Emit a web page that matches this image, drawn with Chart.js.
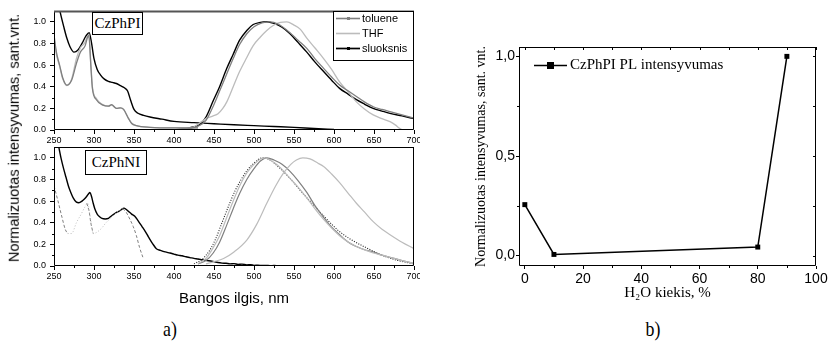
<!DOCTYPE html>
<html>
<head>
<meta charset="utf-8">
<script src="https://cdn.jsdelivr.net/npm/chart.js@4"></script>
<style>
  html,body{margin:0;padding:0;background:#fff;}
  body{width:829px;height:360px;position:relative;overflow:hidden;}
  canvas{position:absolute;}
  .txt{position:absolute;white-space:nowrap;color:#000;line-height:1;}
  .sans{font-family:"Liberation Sans",Arial,sans-serif;}
  .serif{font-family:"Liberation Serif","Times New Roman",serif;}
  .boxlbl{position:absolute;border:1px solid #000;background:#fff;display:flex;align-items:center;justify-content:center;font-size:15px;box-sizing:border-box;}
</style>
</head>
<body>
<canvas id="cTop" width="420" height="145" style="left:0;top:0"></canvas>
<canvas id="cBot" width="420" height="175" style="left:0;top:135px"></canvas>
<canvas id="cB" width="409" height="310" style="left:420px;top:0"></canvas>

<div class="txt sans" style="left:14px;top:138px;font-size:14.5px;transform:translate(-50%,-50%) rotate(-90deg);">Normalizuotas intensyvumas, sant.vnt.</div>
<div class="boxlbl serif" style="left:92px;top:12px;width:51px;height:23px;">CzPhPI</div>
<div class="boxlbl serif" style="left:85px;top:150px;width:62px;height:25px;">CzPhNI</div>
<div class="txt serif" style="left:170px;top:329px;font-size:21px;transform:translate(-50%,-50%) scaleX(0.85);">a)</div>
<div class="txt serif" style="left:653px;top:329px;font-size:21px;transform:translate(-50%,-50%) scaleX(0.85);">b)</div>

<script>
// ================= DATA =================
// Panel a) axes
const aXTicks = [250,300,350,400,450,500,550,600,650,700];
const aXMinor = [275,325,375,425,475,525,575,625,675];
const aYTicks = [0,0.2,0.4,0.6,0.8,1.0];
const aYMinor = [0.1,0.3,0.5,0.7,0.9];
const aLegendLabels = ['toluene','THF','sluoksnis'];

// CzPhPI (top) - film ("sluoksnis"), black
const piFilmAbsNm = [250,254,258,262,266,270,275,280,285,290,294,297,300,304,308,313,318,323,328,333,338,342,346,350,355,362,370,385,400,425,450,475,500,525,550,575,600];
const piFilmAbs   = [1.4,1.22,1.08,0.96,0.85,0.77,0.72,0.74,0.8,0.87,0.9,0.8,0.66,0.56,0.51,0.47,0.45,0.44,0.43,0.41,0.39,0.36,0.27,0.19,0.155,0.135,0.12,0.1,0.08,0.068,0.058,0.048,0.04,0.032,0.024,0.014,0.005];
const piFilmEmNm  = [395,405,415,425,432,440,449,457,466,474,482,491,499,508,516,525,535,545,555,566,576,587,597,607,618,628,638,649,660,670,685,700];
const piFilmEm    = [0,0.005,0.012,0.03,0.05,0.12,0.27,0.4,0.57,0.7,0.83,0.92,0.975,0.995,1.0,0.985,0.95,0.89,0.81,0.72,0.63,0.54,0.46,0.385,0.33,0.28,0.24,0.2,0.175,0.154,0.13,0.105];
// CzPhPI - toluene, grey
const piTolAbsNm  = [250,253,257,261,266,272,278,283,289,292,293.5,296,298,303,311,318,322,328,333,337,343,347,353,370,400,430];
const piTolAbs    = [0.88,0.72,0.6,0.48,0.415,0.46,0.615,0.72,0.78,0.86,0.88,0.6,0.385,0.28,0.23,0.22,0.235,0.2,0.205,0.19,0.108,0.06,0.04,0.025,0.02,0.02];
const piTolEmNm   = [400,410,420,430,440,449,457,466,474,482,491,500,510,520,530,545,555,566,576,587,597,607,618,628,638,649,660,670,685,700];
const piTolEm     = [0,0.005,0.015,0.035,0.09,0.22,0.36,0.52,0.66,0.79,0.89,0.955,0.99,1.0,0.98,0.9,0.83,0.755,0.66,0.57,0.49,0.415,0.36,0.31,0.26,0.215,0.19,0.17,0.14,0.11];
// CzPhPI - THF, light grey
const piThfAbsNm  = [250,253,257,261,266,272,278,283,288,292,294,296,298,303,311,318,322,328,333,337,343,347,353,370,400,430];
const piThfAbs    = [0.86,0.7,0.59,0.47,0.41,0.47,0.66,0.76,0.8,0.86,0.85,0.62,0.4,0.29,0.235,0.22,0.23,0.2,0.205,0.19,0.11,0.065,0.04,0.025,0.02,0.02];
const piThfEmNm   = [400,415,425,435,441,449,455,461,466,474,482,491,499,508,516,525,533,541,550,558,566,576,587,597,607,618,628,638,649,660,670,677,682,686];
const piThfEm     = [0,0.01,0.03,0.08,0.11,0.13,0.15,0.2,0.26,0.4,0.54,0.67,0.78,0.86,0.92,0.97,0.995,1.0,0.97,0.93,0.85,0.76,0.66,0.56,0.445,0.35,0.26,0.195,0.14,0.105,0.077,0.045,0.015,0];

// CzPhNI (bottom)
const niFilmAbsNm = [250,253,256,259,262,265,268,271,274,278,281,285,288,291,293,295,297,299,301,304,307,310,314,318,322,325,328,331,334,337.5,340,343,347,351,355,360,364,368,373,378,383,389,395,400,405,410,415,420,425,430,435,441,446,450,455,460,465,470,475,480,485,491,496,500,505,510,515,520,525,530];
const niFilmAbs   = [1.35,1.22,1.1,0.99,0.9,0.82,0.74,0.68,0.63,0.59,0.585,0.6,0.62,0.645,0.665,0.68,0.64,0.58,0.53,0.48,0.455,0.44,0.435,0.44,0.465,0.48,0.495,0.505,0.52,0.535,0.525,0.505,0.48,0.46,0.42,0.365,0.32,0.27,0.21,0.16,0.145,0.13,0.12,0.11,0.1,0.095,0.085,0.078,0.07,0.065,0.058,0.05,0.046,0.04,0.032,0.027,0.025,0.02,0.022,0.015,0.017,0.01,0.012,0.006,0.008,0.004,0.006,0.003,0.004,0.002];
const niDashNm    = [250,255,260,264,267,280,291,294,296,299,320,336,340,345,349,353,357,361.6];
const niDash      = [0.74,0.6,0.45,0.34,0.3,null,0.58,0.5,0.4,0.3,null,0.53,0.5,0.43,0.365,0.28,0.17,0.07];
const niDotNm     = [267,272,278,284,289,292,296,299,303,309.6,315,322,329,336];
const niDot       = [0.3,0.3,0.4,0.48,0.55,0.58,0.42,0.3,0.31,0.35,0.4,0.45,0.5,0.53];
const niEmDotNm   = [425,435,445,452,460,468,476,484,491,500,510,520,530,545,560,575,590,605,620,640,660,680,700];
const niEmDot     = [0.02,0.06,0.15,0.25,0.4,0.55,0.69,0.8,0.88,0.95,1.0,0.98,0.92,0.81,0.68,0.56,0.44,0.33,0.25,0.17,0.1,0.05,0.02];
const niEmLightNm = [430,440,449,457,466,474,482,491,500,508,513,520,530,545,555,566,576,587,597,607,618,628,638,649,660,670,685,699];
const niEmLight   = [0.02,0.07,0.17,0.28,0.45,0.6,0.74,0.86,0.94,0.99,1.0,0.98,0.93,0.81,0.73,0.63,0.53,0.43,0.35,0.28,0.22,0.18,0.15,0.12,0.1,0.08,0.05,0.025];
const niEmMidNm   = [430,440,449,457,466,474,482,491,500,508,516,525,535,545,555,566,576,587,597,607,618,628,638,649,660,670,685,699];
const niEmMid     = [0.02,0.05,0.12,0.22,0.38,0.53,0.67,0.8,0.9,0.97,1.0,0.98,0.94,0.875,0.79,0.68,0.56,0.45,0.36,0.29,0.22,0.18,0.15,0.13,0.1,0.08,0.05,0.025];
const niEmRedNm   = [440,450,462,475,491,503,516,527,537,546,553,561,570,580,587,597,607,618,628,638,649,660,670,685,700];
const niEmRed     = [0.02,0.04,0.07,0.13,0.24,0.38,0.58,0.74,0.86,0.94,0.98,1.0,0.99,0.95,0.92,0.85,0.77,0.67,0.58,0.5,0.41,0.34,0.29,0.22,0.16];

// Panel b)
const waterPct    = [0,10,80,90];
const plIntensity = [0.256,0.006,0.043,1.0];
const bSeriesLabel = 'CzPhPI PL intensyvumas';
const bXTicks = [0,20,40,60,80,100];
const bXMinor = [10,30,50,70,90];
const bYTicks = [0,0.5,1.0];
const bYMinor = [0.25,0.75];

// ================= HELPERS =================
const SANS = '"Liberation Sans", Arial, sans-serif';
const SERIF = '"Liberation Serif", "Times New Roman", serif';
const BLACK = '#000000', GREY = '#7f7f7f', LIGHT = '#bcbcbc';

function pts(xs, ys){ return xs.map((x,i)=>({x:x, y:ys[i]})); }

function line(label, xs, ys, color, width, dash, inLegend){
  return {label:label, data:pts(xs,ys), borderColor:color, backgroundColor:color,
    borderWidth:width, borderDash:dash||[], pointRadius:0, fill:false,
    cubicInterpolationMode:'monotone', spanGaps:false, inLegend:!!inLegend};
}

function framePlugin(id, cfg){
  return {
    id:id,
    afterDraw(chart){
      const ctx = chart.ctx, a = chart.chartArea;
      const sx = chart.scales.x, sy = chart.scales.y;
      ctx.save();
      ctx.strokeStyle = '#000';
      ctx.lineWidth = 1;
      // minor ticks (outside)
      ctx.beginPath();
      (cfg.xMinor||[]).forEach(v=>{const p=Math.round(sx.getPixelForValue(v))+0.5; ctx.moveTo(p,a.bottom); ctx.lineTo(p,a.bottom+cfg.minorLen);});
      (cfg.yMinor||[]).forEach(v=>{const p=Math.round(sy.getPixelForValue(v))+0.5; ctx.moveTo(a.left,p); ctx.lineTo(a.left-cfg.minorLen,p);});
      if (cfg.mirror){
        (cfg.xMinor||[]).concat(cfg.xMajor||[]).forEach(v=>{const p=Math.round(sx.getPixelForValue(v))+0.5; ctx.moveTo(p,a.top); ctx.lineTo(p,a.top+cfg.mirror);});
        (cfg.yMinor||[]).concat(cfg.yMajor||[]).forEach(v=>{const p=Math.round(sy.getPixelForValue(v))+0.5; ctx.moveTo(a.right,p); ctx.lineTo(a.right-cfg.mirror,p);});
      }
      ctx.stroke();
      // frame
      const l=Math.round(a.left)+0.5, r=Math.round(a.right)-0.5, t=Math.round(a.top)+0.5, b=Math.round(a.bottom)-0.5;
      ctx.beginPath();
      ctx.moveTo(l,t); ctx.lineTo(l,b); ctx.lineTo(r,b); ctx.lineTo(r,t);
      ctx.stroke();
      ctx.beginPath();
      ctx.lineWidth = cfg.topWidth || 1;
      ctx.strokeStyle = cfg.topColor || '#000';
      const tt = a.top + (cfg.topWidth||1)/2 - ((cfg.topWidth||1)>1?0.5:0);
      ctx.moveTo(l-0.5, tt); ctx.lineTo(r+0.5, tt);
      ctx.stroke();
      ctx.restore();
    }
  };
}

const boxLegendPlugin = {
  id:'boxLegend',
  afterDraw(chart){
    const ctx = chart.ctx, a = chart.chartArea;
    const items = chart.data.datasets.filter(d=>d.inLegend);
    const bx = a.right - 81, by = a.top, bw = 81, bh = 49;
    ctx.save();
    ctx.fillStyle = '#fff';
    ctx.fillRect(bx, by, bw, bh);
    ctx.strokeStyle = '#000'; ctx.lineWidth = 1;
    ctx.strokeRect(Math.round(bx)+0.5, Math.round(by)+0.5, bw-1, bh);
    ctx.font = '11px ' + SANS;
    ctx.textBaseline = 'middle'; ctx.textAlign = 'left';
    items.forEach((d,i)=>{
      const y = by + 7.5 + i*15;
      ctx.strokeStyle = d.borderColor; ctx.lineWidth = d.borderWidth + 0.3;
      ctx.beginPath(); ctx.moveTo(bx+3, y); ctx.lineTo(bx+27, y); ctx.stroke();
      if (d.legendMarker){ ctx.fillStyle = d.borderColor; ctx.fillRect(bx+14, y-1.5, 3, 3); }
      ctx.fillStyle = '#000';
      ctx.fillText(d.label, bx+29, y+0.5);
    });
    ctx.restore();
  }
};

const innerLegendPlugin = {
  id:'innerLegend',
  afterDraw(chart){
    const ctx = chart.ctx, a = chart.chartArea;
    const d = chart.data.datasets[0];
    const x0 = a.left + 15, y = a.top + 18.5;
    ctx.save();
    ctx.strokeStyle = '#000'; ctx.lineWidth = 1.5;
    ctx.beginPath(); ctx.moveTo(x0, y); ctx.lineTo(x0+33, y); ctx.stroke();
    ctx.fillStyle = '#000';
    ctx.fillRect(x0+16.5-3.5, y-3.5, 7, 7);
    ctx.font = '15px ' + SERIF;
    ctx.textBaseline = 'middle'; ctx.textAlign = 'left';
    ctx.fillText(d.label, x0+36, y);
    ctx.restore();
  }
};

function specOptions(xHeight, padTop, withTitle){
  return {
    responsive:false, animation:false, devicePixelRatio:1,
    layout:{padding:{left:0, right:6, top:padTop, bottom:0}},
    plugins:{legend:{display:false}, tooltip:{enabled:false}},
    scales:{
      x:{type:'linear', min:250, max:700,
        afterBuildTicks:s=>{ s.ticks = aXTicks.map(v=>({value:v})); },
        afterFit:s=>{ s.height = xHeight; s.paddingLeft = 0; s.paddingRight = 0; },
        ticks:{autoSkip:false, maxRotation:0, minRotation:0, padding:1, color:'#000', font:{family:SANS, size:9}, callback:v=>String(v)},
        grid:{drawOnChartArea:false, drawTicks:true, tickLength:4, color:'#000', tickColor:'#000'},
        border:{display:false},
        title: withTitle ? {display:true, text:'Bangos ilgis, nm', color:'#000', font:{family:SANS, size:15, lineHeight:1.2}, padding:{top:0, bottom:2}} : {display:false}
      },
      y:{type:'linear', min:0, max:1.1,
        afterBuildTicks:s=>{ s.ticks = aYTicks.map(v=>({value:v})); },
        afterFit:s=>{ s.width = 54; s.paddingTop = 0; s.paddingBottom = 0; },
        ticks:{autoSkip:false, padding:4, color:'#000', font:{family:SANS, size:9}, callback:v=>v.toFixed(1)},
        grid:{drawOnChartArea:false, drawTicks:true, tickLength:4, color:'#000', tickColor:'#000'},
        border:{display:false}
      }
    }
  };
}

// ================= CHART a) top: CzPhPI =================
const topSets = [
  line(aLegendLabels[0], piTolEmNm, piTolEm, GREY, 1.3, null, true),
  line(aLegendLabels[0]+' abs', piTolAbsNm, piTolAbs, GREY, 1.3),
  line(aLegendLabels[1], piThfEmNm, piThfEm, LIGHT, 1.3, null, true),
  line(aLegendLabels[1]+' abs', piThfAbsNm, piThfAbs, LIGHT, 1.3),
  line(aLegendLabels[2], piFilmEmNm, piFilmEm, BLACK, 1.4, null, true),
  line(aLegendLabels[2]+' abs', piFilmAbsNm, piFilmAbs, BLACK, 1.4)
];
topSets[0].legendMarker = true; topSets[4].legendMarker = true;
// legend order toluene, THF, sluoksnis is preserved by filter order
new Chart(document.getElementById('cTop'), {
  type:'line',
  data:{datasets:topSets},
  options:specOptions(15, 11, false),
  plugins:[framePlugin('frameTop',{xMinor:aXMinor, yMinor:aYMinor, minorLen:2, topWidth:2, topColor:'#555'}), boxLegendPlugin]
});

// ================= CHART a) bottom: CzPhNI =================
const botSets = [
  line('dotted abs', niDotNm, niDot, LIGHT, 1.0, [1,2]),
  line('dashed abs', niDashNm, niDash, GREY, 1.0, [3,2]),
  line('PL right', niEmRedNm, niEmRed, LIGHT, 1.2),
  line('PL light', niEmLightNm, niEmLight, LIGHT, 1.2),
  line('PL mid', niEmMidNm, niEmMid, GREY, 1.2),
  line('PL dotted', niEmDotNm, niEmDot, '#222', 1.1, [1,1.5]),
  line('film abs', niFilmAbsNm, niFilmAbs, BLACK, 1.4)
];
new Chart(document.getElementById('cBot'), {
  type:'line',
  data:{datasets:botSets},
  options:specOptions(44, 12, true),
  plugins:[framePlugin('frameBot',{xMinor:aXMinor, yMinor:aYMinor, minorLen:2})]
});

// ================= CHART b) =================
new Chart(document.getElementById('cB'), {
  type:'line',
  data:{datasets:[{
    label:bSeriesLabel, data:pts(waterPct, plIntensity),
    borderColor:'#000', backgroundColor:'#000', borderWidth:1.5,
    pointStyle:'rect', pointRadius:3.5, pointBackgroundColor:'#000', pointBorderWidth:0, tension:0
  }]},
  options:{
    responsive:false, animation:false, devicePixelRatio:1,
    layout:{padding:{left:53, right:13, top:47, bottom:0}},
    plugins:{legend:{display:false}, tooltip:{enabled:false}},
    scales:{
      x:{type:'linear', min:-2, max:100,
        afterBuildTicks:s=>{ s.ticks = bXTicks.map(v=>({value:v})); },
        afterFit:s=>{ s.height = 44; s.paddingLeft = 0; s.paddingRight = 0; },
        ticks:{autoSkip:false, maxRotation:0, padding:2, color:'#000', font:{family:SANS, size:14}, callback:v=>String(v)},
        grid:{drawOnChartArea:false, tickLength:3, color:'#000'},
        border:{display:false},
        title:{display:true, text:'H₂O kiekis, %', color:'#000', font:{family:SERIF, size:15, lineHeight:1.2}, padding:{top:0, bottom:8}}
      },
      y:{type:'linear', min:-0.052, max:1.047,
        afterBuildTicks:s=>{ s.ticks = bYTicks.map(v=>({value:v})); },
        afterFit:s=>{ s.width = 46; s.paddingTop = 0; s.paddingBottom = 0; },
        ticks:{autoSkip:false, padding:1, color:'#000', font:{family:SANS, size:14}, callback:v=>v.toFixed(1).replace('.',',')},
        grid:{drawOnChartArea:false, tickLength:3, color:'#000'},
        border:{display:false},
        title:{display:true, text:'Normalizuotas intensyvumas, sant. vnt.', color:'#000', font:{family:SERIF, size:14, lineHeight:1.2}, padding:{top:0, bottom:0}}
      }
    }
  },
  plugins:[framePlugin('frameB',{xMinor:bXMinor, yMinor:bYMinor, xMajor:bXTicks, yMajor:bYTicks, minorLen:2, mirror:3}), innerLegendPlugin]
});
</script>
</body>
</html>
